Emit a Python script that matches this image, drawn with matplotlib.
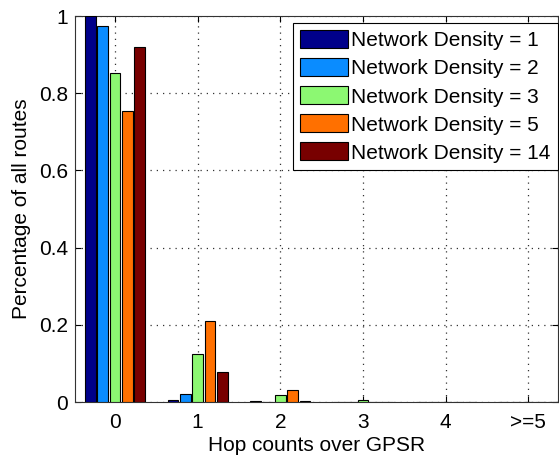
import matplotlib
matplotlib.use('Agg')
import matplotlib.pyplot as plt
import numpy as np

plt.rcParams['font.family'] = ['Liberation Sans', 'DejaVu Sans']

# Share of routes by extra hop count compared with GPSR
hop_labels = ['0', '1', '2', '3', '4', '>=5']
densities = [1, 2, 3, 5, 14]
density_1 = [1.0, 0.005, 0.002, 0.0, 0.0, 0.0]
density_2 = [0.975, 0.022, 0.0, 0.0, 0.0, 0.0]
density_3 = [0.853, 0.125, 0.017, 0.004, 0.001, 0.0]
density_5 = [0.755, 0.21, 0.032, 0.001, 0.0, 0.0]
density_14 = [0.92, 0.078, 0.002, 0.0, 0.0, 0.0]
series = [density_1, density_2, density_3, density_5, density_14]
colors = ['#00008a', '#0a8cff', '#8cf872', '#ff7000', '#780000']

fig = plt.figure(figsize=(5.59, 4.55), dpi=100)
ax = fig.add_axes([75 / 559, 1 - 402 / 455, 483 / 559, 386 / 455])

x = np.arange(len(hop_labels))
pitch = 0.149
width = 0.13
for i, (vals, c, d) in enumerate(zip(series, colors, densities)):
    ax.bar(x + (i - 2) * pitch, vals, width, color=c, edgecolor='black',
           linewidth=0.8, label='Network Density = %d' % d, zorder=3)

ax.set_xlim(-0.484, 5.36)
ax.set_ylim(0, 1)
ax.set_xticks(x)
ax.set_xticklabels(hop_labels)
ax.set_yticks([0, 0.2, 0.4, 0.6, 0.8, 1])
ax.set_yticklabels(['0', '0.2', '0.4', '0.6', '0.8', '1'])
ax.tick_params(direction='in', top=True, right=True, labelsize=15, length=4)
ax.tick_params(axis='x', pad=8)
ax.tick_params(axis='y', pad=5)
ax.grid(True, linestyle=(0, (1, 4)), color='#333333', linewidth=0.9, zorder=0)
for s in ax.spines.values():
    s.set_linewidth(0.8)
    s.set_color('#333333')

ax.set_xlabel('Hop counts over GPSR', fontsize=15, labelpad=3)
ax.set_ylabel('Percentage of all routes', fontsize=15, labelpad=6)

leg = ax.legend(loc='upper right', bbox_to_anchor=(1.0, 0.982), fontsize=15,
                fancybox=False, edgecolor='black', framealpha=1,
                handlelength=2.3, handleheight=0.95, handletextpad=0.15,
                labelspacing=0.38, borderpad=0.35, borderaxespad=0.0)
leg.get_frame().set_linewidth(0.8)

fig.savefig('out.png', dpi=100)
